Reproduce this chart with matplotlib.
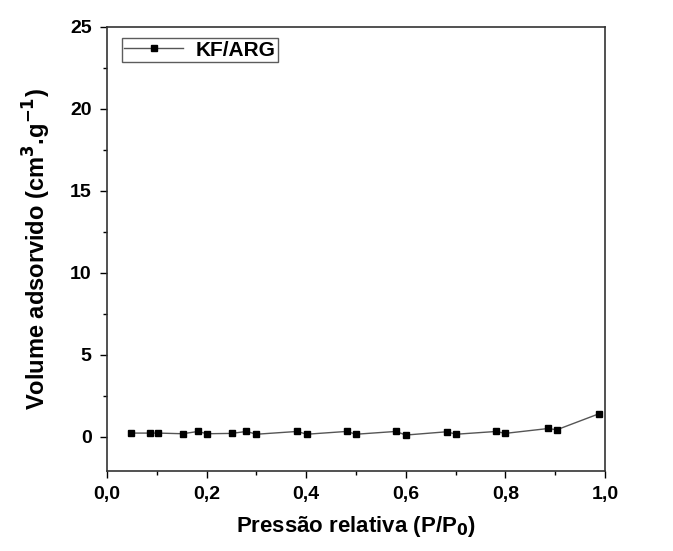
import numpy as np
import matplotlib.pyplot as plt
from matplotlib.ticker import MultipleLocator, FuncFormatter

# relative pressure and adsorbed volume
p_rel = [0.048, 0.086, 0.103, 0.152, 0.183, 0.200, 0.250, 0.280, 0.300,
         0.382, 0.401, 0.481, 0.500, 0.580, 0.600, 0.682, 0.701, 0.782,
         0.799, 0.886, 0.903, 0.988]
volume = [0.22, 0.22, 0.22, 0.18, 0.32, 0.18, 0.20, 0.32, 0.15,
          0.32, 0.15, 0.32, 0.15, 0.32, 0.10, 0.30, 0.15, 0.32,
          0.20, 0.50, 0.42, 1.40]
series_name = 'KF/ARG'

plt.rcParams['font.family'] = ['Liberation Sans', 'DejaVu Sans']
plt.rcParams['font.weight'] = 'bold'
plt.rcParams['mathtext.default'] = 'bf'

fig = plt.figure(figsize=(6.73, 5.51), dpi=100)
ax = fig.add_axes([0.159, 0.145, 0.740, 0.806])

ax.plot(p_rel, volume, color='#555555', lw=1.0, marker='s', ms=5,
        mfc='black', mec='black', label=series_name)

ax.set_xlim(0, 1.0)
ax.set_ylim(-2.1, 25)
ax.xaxis.set_major_locator(MultipleLocator(0.2))
ax.xaxis.set_minor_locator(MultipleLocator(0.1))
ax.yaxis.set_major_locator(MultipleLocator(5))
ax.yaxis.set_minor_locator(MultipleLocator(2.5))
ax.xaxis.set_major_formatter(FuncFormatter(lambda v, pos: f'{v:.1f}'.replace('.', ',')))
ax.tick_params(which='both', direction='out', top=False, right=False, labelsize=14, width=1)
ax.tick_params(which='major', length=5, pad=6)
ax.tick_params(which='minor', length=3)
for s in ax.spines.values():
    s.set_linewidth(1.2)
    s.set_color('#333333')

ax.set_xlabel('Pressão relativa (P/P$_0$)', fontsize=16, fontweight='bold', labelpad=8)
ax.set_ylabel('Volume adsorvido (cm$^{3}$.g$^{-1}$)', fontsize=17, fontweight='bold', labelpad=12)

leg = ax.legend(loc='upper left', fontsize=15, fancybox=False, edgecolor='#333333',
                handlelength=2.8, borderpad=0.12, handletextpad=0.6, borderaxespad=0,
                bbox_to_anchor=(0.03, 0.975))
leg.get_frame().set_linewidth(1.0)

fig.savefig('out.png', dpi=100)
